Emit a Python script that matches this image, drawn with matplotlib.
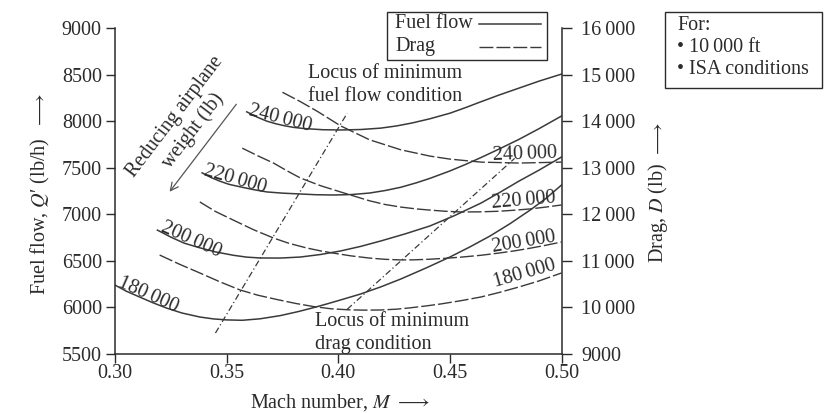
import matplotlib
matplotlib.use("Agg")
import matplotlib.pyplot as plt
from matplotlib.lines import Line2D
from matplotlib.patches import Rectangle

plt.rcParams["font.family"] = ["Liberation Serif", "DejaVu Serif"]
plt.rcParams["mathtext.fontset"] = "stix"
plt.rcParams["font.size"] = 14.5

INK = "#2b2b2b"
LINE = "#3a3a3a"
DASH = (0, (10, 2.2))
DASHDOT = (0, (5, 2.2, 1, 2.2))

# fuel flow Q' (lb/h) against Mach number, one curve per airplane weight
mach_f240 = [0.359, 0.364, 0.368, 0.372, 0.376, 0.380, 0.385, 0.393, 0.401, 0.410, 0.419, 0.426,
             0.433, 0.441, 0.450, 0.457, 0.463, 0.472, 0.481, 0.490, 0.500]
fuel_240 = [8100, 8040, 8000, 7972, 7950, 7933, 7920, 7908, 7905, 7910, 7925, 7948,
            7980, 8025, 8085, 8145, 8200, 8280, 8355, 8430, 8505]
mach_f220 = [0.339, 0.343, 0.347, 0.351, 0.356, 0.362, 0.368, 0.375, 0.383, 0.390, 0.398, 0.406,
             0.414, 0.421, 0.428, 0.435, 0.441, 0.450, 0.457, 0.464, 0.472, 0.481, 0.490, 0.500]
fuel_220 = [7445, 7395, 7355, 7322, 7295, 7265, 7240, 7227, 7218, 7210, 7207, 7212,
            7228, 7255, 7290, 7338, 7385, 7465, 7535, 7610, 7700, 7805, 7920, 8055]
mach_f200 = [0.319, 0.325, 0.331, 0.338, 0.345, 0.353, 0.359, 0.365, 0.374, 0.383, 0.392, 0.401,
             0.410, 0.419, 0.430, 0.441, 0.452, 0.464, 0.472, 0.481, 0.490, 0.500]
fuel_200 = [6830, 6755, 6690, 6640, 6596, 6560, 6540, 6531, 6530, 6541, 6568, 6606,
            6655, 6713, 6790, 6874, 6985, 7121, 7230, 7357, 7475, 7615]
mach_f180 = [0.300, 0.305, 0.311, 0.317, 0.323, 0.330, 0.338, 0.344, 0.350, 0.357, 0.365, 0.374,
             0.382, 0.389, 0.395, 0.401, 0.410, 0.419, 0.428, 0.439, 0.450, 0.459, 0.468, 0.477,
             0.486, 0.493, 0.500]
fuel_180 = [6240, 6175, 6112, 6050, 5994, 5940, 5897, 5877, 5866, 5862, 5878, 5912,
            5955, 5998, 6038, 6080, 6144, 6220, 6305, 6420, 6541, 6650, 6767, 6900,
            7046, 7170, 7314]

# drag D (lb) against Mach number
mach_d240 = [0.375, 0.383, 0.391, 0.401, 0.414, 0.428, 0.441, 0.450, 0.464, 0.481, 0.500]
drag_240 = [14620, 14420, 14200, 13900, 13600, 13385, 13250, 13185, 13120, 13100, 13120]
mach_d220 = [0.357, 0.364, 0.371, 0.377, 0.383, 0.392, 0.401, 0.414, 0.421, 0.428, 0.435, 0.441,
             0.448, 0.455, 0.463, 0.472, 0.479, 0.486, 0.493, 0.500]
drag_220 = [13420, 13255, 13100, 12935, 12780, 12615, 12480, 12290, 12210, 12155, 12115, 12090,
            12065, 12050, 12052, 12065, 12088, 12115, 12155, 12200]
mach_d200 = [0.338, 0.345, 0.353, 0.362, 0.371, 0.378, 0.386, 0.392, 0.398, 0.406, 0.414, 0.421,
             0.428, 0.434, 0.441, 0.448, 0.455, 0.464, 0.472, 0.479, 0.486, 0.493, 0.500]
drag_200 = [12265, 12060, 11875, 11670, 11490, 11375, 11275, 11215, 11165, 11105, 11060, 11033,
            11020, 11022, 11035, 11055, 11080, 11120, 11168, 11215, 11272, 11335, 11405]
mach_d180 = [0.320, 0.329, 0.338, 0.347, 0.356, 0.364, 0.373, 0.381, 0.389, 0.397, 0.405, 0.412,
             0.419, 0.426, 0.432, 0.439, 0.446, 0.455, 0.464, 0.472, 0.481, 0.490, 0.500]
drag_180 = [11125, 10925, 10740, 10550, 10375, 10262, 10165, 10085, 10018, 9970, 9948, 9942,
            9945, 9962, 9990, 10030, 10075, 10145, 10225, 10320, 10440, 10570, 10740]

# loci of the minima
locus_fuel_mach = [0.345, 0.404]
locus_fuel_q = [5725, 8085]
locus_drag_mach = [0.404, 0.479]
locus_drag_d = [9960, 13200]

weights = ["240\u2009000", "220\u2009000", "200\u2009000", "180\u2009000"]
x_ticks = [0.30, 0.35, 0.40, 0.45, 0.50]
q_ticks = [5500, 6000, 6500, 7000, 7500, 8000, 8500, 9000]
d_ticks = [9000, 10000, 11000, 12000, 13000, 14000, 15000, 16000]


def fx(px):
    return px / 836


def fy(py):
    return 1 - py / 413


fig = plt.figure(figsize=(8.36, 4.13), dpi=100)
ax = fig.add_axes([fx(115), fy(354), 446.5 / 836, 326 / 413])
ax2 = ax.twinx()

fuel = [(mach_f240, fuel_240), (mach_f220, fuel_220), (mach_f200, fuel_200), (mach_f180, fuel_180)]
drag = [(mach_d240, drag_240), (mach_d220, drag_220), (mach_d200, drag_200), (mach_d180, drag_180)]
for m, q in fuel:
    ax.plot(m, q, color=LINE, lw=1.1)
for m, d in drag:
    ax2.plot(m, d, color=LINE, lw=1.0, ls=DASH)
ax.plot(locus_fuel_mach, locus_fuel_q, color=LINE, lw=0.9, ls=DASHDOT)
ax2.plot(locus_drag_mach, locus_drag_d, color=LINE, lw=0.9, ls=DASHDOT)

ax.set_xlim(0.30, 0.50)
ax.set_ylim(5500, 9000)
ax2.set_ylim(9000, 16000)
ax.set_xticks(x_ticks)
ax.set_xticklabels([f"{v:.2f}" for v in x_ticks])
ax.set_yticks(q_ticks)
ax.set_yticklabels([str(v) for v in q_ticks])
ax2.set_yticks(d_ticks)
ax2.set_yticklabels([f"{v // 1000}\u2009000" if v >= 10000 else str(v) for v in d_ticks])

for a in (ax, ax2):
    a.spines["top"].set_visible(False)
    for s in a.spines.values():
        s.set_color(INK)
        s.set_linewidth(1.1)
ax.spines["right"].set_visible(False)
ax2.spines["left"].set_visible(False)
ax2.spines["bottom"].set_visible(False)
ax.tick_params(axis="both", direction="out", length=6.5, width=1, color=INK, labelcolor=INK)
ax.tick_params(axis="y", pad=3)
ax.tick_params(axis="x", pad=1)
ax2.tick_params(axis="y", direction="out", length=7, width=1, color=INK, labelcolor=INK, pad=7)

# weight labels at both ends of the curves
left_pos = [(0.3596, 8066, -14.5), (0.3394, 7422, -16), (0.3202, 6821, -24), (0.3009, 6230, -24)]
right_pos = [(0.4693, 7583, 2), (0.4689, 7067, 5), (0.4693, 6595, 9.5), (0.4702, 6219, 16)]
for lab, (m, q, r) in zip(weights, left_pos):
    ax.text(m, q, lab, rotation=r, rotation_mode="anchor", ha="left", va="baseline", color=INK)
for lab, (m, q, r) in zip(weights, right_pos):
    ax.text(m, q, lab, rotation=r, rotation_mode="anchor", ha="left", va="baseline", color=INK)

ax.text(0.3864, 8613, "Locus of minimum\nfuel flow condition", ha="left", va="top",
        color=INK, linespacing=1.3)
ax.text(0.3896, 5951, "Locus of minimum\ndrag condition", ha="left", va="top",
        color=INK, linespacing=1.3)

ax.text(0.3309, 7969, "Reducing airplane\nweight (lb)", rotation=52.7, rotation_mode="anchor",
        ha="center", va="center", multialignment="center", color=INK)
ax.annotate("", xy=(0.3237, 7218), xytext=(0.3551, 8205),
            arrowprops=dict(arrowstyle="->", color="#555555", lw=0.9, mutation_scale=14))

# axis titles, each with its pointing arrow
fig.text(fx(40), fy(216), "Fuel flow, $Q$\u2032 (lb/h)", rotation=90,
         ha="center", va="center", color=INK)
fig.text(fx(40), fy(110), r"$\longrightarrow$", rotation=90, ha="center", va="center", color=INK)
fig.text(fx(658), fy(213), "Drag, $D$ (lb)", rotation=90, ha="center", va="center", color=INK)
fig.text(fx(658), fy(139), r"$\longrightarrow$", rotation=90, ha="center", va="center", color=INK)
fig.text(fx(340), fy(403), r"Mach number, $M$ $\longrightarrow$",
         ha="center", va="center", color=INK)

# key for the two line styles
fig.patches.append(Rectangle((fx(387), fy(60)), 160 / 836, 48 / 413, transform=fig.transFigure,
                             fill=False, ec=INK, lw=1))
fig.text(fx(395), fy(23), "Fuel flow", ha="left", va="center", color=INK)
fig.text(fx(395), fy(46), "Drag", ha="left", va="center", color=INK)
fig.lines.append(Line2D([fx(479), fx(541)], [fy(24), fy(24)], transform=fig.transFigure,
                        color=LINE, lw=1.1))
fig.lines.append(Line2D([fx(479), fx(541)], [fy(47), fy(47)], transform=fig.transFigure,
                        color=LINE, lw=1.0, ls=DASH))

fig.patches.append(Rectangle((fx(665), fy(88)), 157 / 836, 76 / 413, transform=fig.transFigure,
                             fill=False, ec=INK, lw=1))
fig.text(fx(677), fy(25), "For:", ha="left", va="center", color=INK)
fig.text(fx(677), fy(47), "\u2022 10\u2009000 ft", ha="left", va="center", color=INK)
fig.text(fx(677), fy(70), "\u2022 ISA conditions", ha="left", va="center", color=INK)

fig.savefig("out.png", dpi=100)
